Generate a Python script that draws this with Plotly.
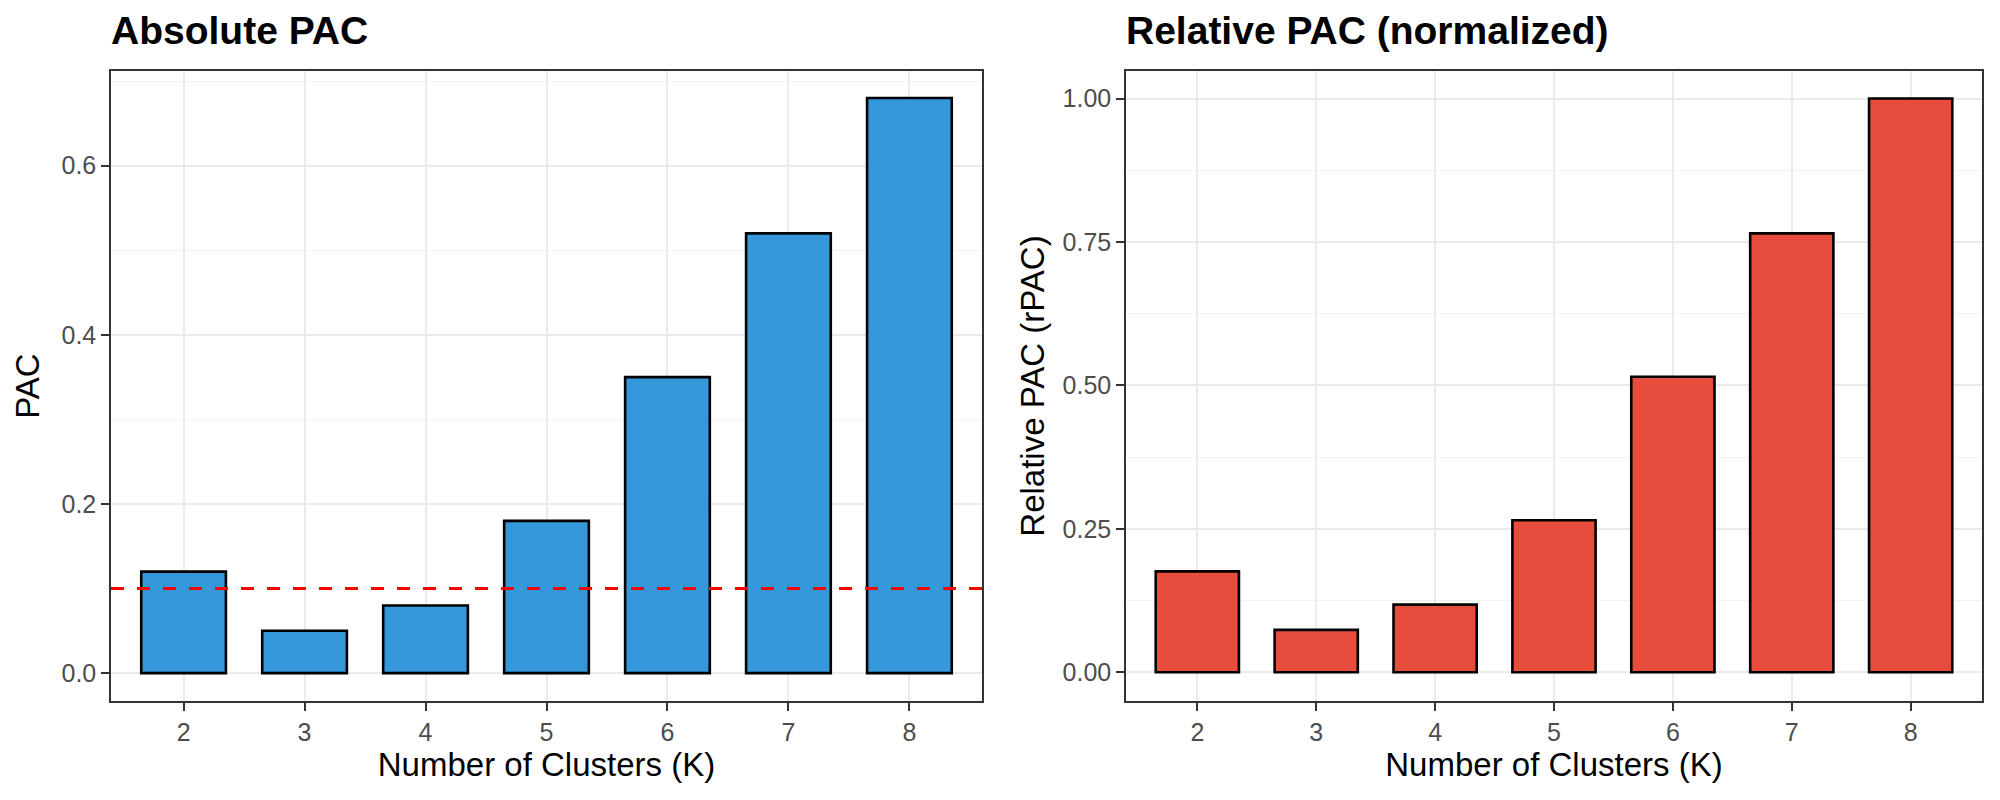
import plotly.graph_objects as go

# valores
k_values = [2, 3, 4, 5, 6, 7, 8]
pac = [0.12, 0.05, 0.08, 0.18, 0.35, 0.52, 0.68]
rpac = [0.176, 0.074, 0.118, 0.265, 0.515, 0.765, 1.0]
pac_threshold = 0.1

FONT = "Liberation Sans"
GRID = "#EBEBEB"
BORDER = "#333333"

fig = go.Figure()

# barras PAC absoluto
fig.add_trace(go.Bar(x=k_values, y=pac, width=0.7, marker_color="#3498DB",
                     marker_line=dict(color="black", width=2.6), xaxis="x", yaxis="y"))
# barras PAC relativo
fig.add_trace(go.Bar(x=k_values, y=rpac, width=0.7, marker_color="#E74C3C",
                     marker_line=dict(color="black", width=2.6), xaxis="x2", yaxis="y2"))

# linha tracejada do limiar
fig.add_shape(type="line", xref="x domain", x0=0, x1=1, yref="y", y0=pac_threshold, y1=pac_threshold,
              line=dict(color="red", width=3, dash="13px,13px"))

axis_common = dict(showline=True, mirror=True, linecolor=BORDER, linewidth=1.5,
                   ticks="outside", ticklen=8, tickcolor=BORDER, tickwidth=2,
                   showgrid=True, gridcolor=GRID, gridwidth=2, zeroline=False,
                   tickfont=dict(family=FONT, size=25, color="#4D4D4D"),
                   title_font=dict(family=FONT, size=33, color="black"))

# domínios deslocados 8px para compensar a margem da página
fig.update_layout(
    width=2000, height=800, margin=dict(l=0, r=0, t=0, b=0),
    plot_bgcolor="white", paper_bgcolor="white", showlegend=False,
    xaxis=dict(domain=[0.0515, 0.487], range=[1.4, 8.6], tickvals=k_values, anchor="y",
               title=dict(text="Number of Clusters (K)", standoff=6), **axis_common),
    yaxis=dict(domain=[0.13375, 0.92125], range=[-0.033, 0.712], tickvals=[0, 0.2, 0.4, 0.6],
               ticktext=["0.0", "0.2", "0.4", "0.6"], anchor="x",
               minor=dict(tickvals=[0.1, 0.3, 0.5, 0.7], showgrid=True, gridcolor="#F2F2F2", gridwidth=1, ticks=""),
               title=dict(text="PAC", standoff=12), **axis_common),
    xaxis2=dict(domain=[0.559, 0.987], range=[1.4, 8.6], tickvals=k_values, anchor="y2",
                title=dict(text="Number of Clusters (K)", standoff=6), **axis_common),
    yaxis2=dict(domain=[0.13375, 0.92125], range=[-0.05, 1.048], tickvals=[0, 0.25, 0.5, 0.75, 1.0],
                ticktext=["0.00", "0.25", "0.50", "0.75", "1.00"], anchor="x2",
                minor=dict(tickvals=[0.125, 0.375, 0.625, 0.875], showgrid=True, gridcolor="#F2F2F2", gridwidth=1, ticks=""),
                title=dict(text="Relative PAC (rPAC)", standoff=8), **axis_common),
    annotations=[
        dict(text="<b>Absolute PAC</b>", xref="paper", yref="paper", x=0.0505, y=0.972,
             xanchor="left", yanchor="middle", showarrow=False,
             font=dict(family=FONT, size=39, color="black")),
        dict(text="<b>Relative PAC (normalized)</b>", xref="paper", yref="paper", x=0.558, y=0.972,
             xanchor="left", yanchor="middle", showarrow=False,
             font=dict(family=FONT, size=39, color="black")),
    ],
)

fig.write_html("out.html")
